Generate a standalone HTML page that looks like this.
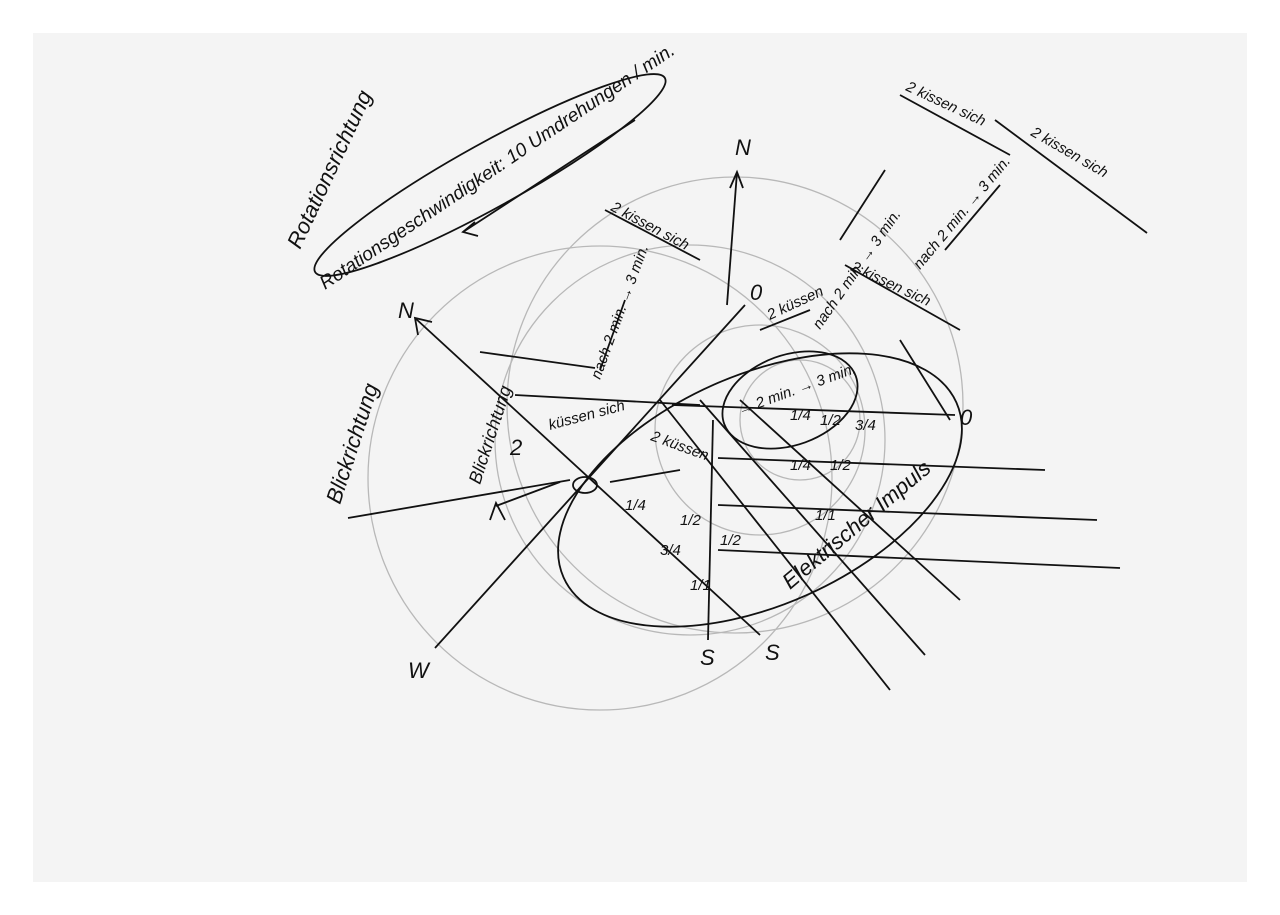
<!DOCTYPE html>
<html><head><meta charset="utf-8"><style>
html,body{margin:0;padding:0;background:#fff;}
svg{display:block}
text{font-family:"Liberation Sans",sans-serif;font-style:italic;fill:#111}
</style></head><body>
<svg width="1280" height="915" viewBox="0 0 1280 915" xmlns="http://www.w3.org/2000/svg">
<rect x="33" y="33" width="1214" height="849" fill="#f4f4f4"/>
<g fill="none" stroke="#b8b8b8" stroke-width="1.3">
<circle cx="600" cy="478" r="232"/>
<circle cx="735" cy="405" r="228"/>
<circle cx="690" cy="440" r="195"/>
<circle cx="760" cy="430" r="105"/>
<circle cx="800" cy="420" r="60"/>
</g>
<g fill="none" stroke="#111" stroke-width="1.8">
<ellipse cx="760" cy="490" rx="215" ry="115" transform="rotate(-24 760 490)"/>
<ellipse cx="790" cy="400" rx="70" ry="45" transform="rotate(-20 790 400)"/>
<ellipse cx="490" cy="175" rx="200" ry="32" transform="rotate(-29 490 175)"/>
<line x1="435" y1="648" x2="745" y2="305"/>
<line x1="727" y1="305" x2="737" y2="172"/>
<polyline points="730,188 737,172 743,188"/>
<line x1="415" y1="318" x2="760" y2="635"/>
<polyline points="418,335 415,318 432,322"/>
<line x1="713" y1="420" x2="708" y2="640"/>
<line x1="718" y1="458" x2="1045" y2="470"/>
<line x1="718" y1="505" x2="1097" y2="520"/>
<line x1="718" y1="550" x2="1120" y2="568"/>
<line x1="660" y1="400" x2="890" y2="690"/>
<line x1="700" y1="400" x2="925" y2="655"/>
<line x1="740" y1="400" x2="960" y2="600"/>
<line x1="672" y1="405" x2="955" y2="415"/>
<line x1="515" y1="395" x2="700" y2="405"/>
<line x1="480" y1="352" x2="595" y2="368"/>
<line x1="348" y1="518" x2="570" y2="480"/>
<line x1="610" y1="482" x2="680" y2="470"/>
<polyline points="490,520 496,503 505,520"/>
<line x1="496" y1="506" x2="560" y2="482"/>
<line x1="463" y1="232" x2="635" y2="120"/>
<polyline points="475,222 463,232 478,236"/>
<line x1="900" y1="95" x2="1010" y2="155"/>
<line x1="995" y1="120" x2="1147" y2="233"/>
<line x1="605" y1="210" x2="700" y2="260"/>
<line x1="845" y1="265" x2="960" y2="330"/>
<line x1="840" y1="240" x2="885" y2="170"/>
<line x1="945" y1="250" x2="1000" y2="185"/>
<line x1="600" y1="370" x2="625" y2="300"/>
<line x1="760" y1="330" x2="810" y2="310"/>
<line x1="900" y1="340" x2="950" y2="420"/>
<ellipse cx="585" cy="485" rx="12" ry="8"/>
</g>
<g font-size="22">
<text transform="translate(300,250) rotate(-65)">Rotationsrichtung</text>
<text transform="translate(325,290) rotate(-34)" font-size="19">Rotationsgeschwindigkeit: 10 Umdrehungen / min.</text>
<text transform="translate(340,505) rotate(-72)">Blickrichtung</text>
<text transform="translate(480,485) rotate(-72)" font-size="18">Blickrichtung</text>
<text transform="translate(790,590) rotate(-40)">Elektrischer Impuls</text>
<text x="398" y="318">N</text>
<text x="735" y="155">N</text>
<text x="408" y="678">W</text>
<text x="700" y="665">S</text>
<text x="765" y="660">S</text>
<text x="960" y="425">0</text>
<text x="750" y="300">0</text>
<text x="510" y="455">2</text>
</g>
<g font-size="15">
<text transform="translate(905,90) rotate(25)">2 kissen sich</text>
<text transform="translate(1030,135) rotate(30)">2 kissen sich</text>
<text transform="translate(610,210) rotate(28)">2 kissen sich</text>
<text transform="translate(850,270) rotate(25)">2 kissen sich</text>
<text transform="translate(770,320) rotate(-25)">2 küssen</text>
<text transform="translate(550,430) rotate(-15)">küssen sich</text>
<text transform="translate(650,440) rotate(20)">2 küssen</text>
<text transform="translate(600,380) rotate(-70)">nach 2 min. → 3 min.</text>
<text transform="translate(820,330) rotate(-55)">nach 2 min. → 3 min.</text>
<text transform="translate(920,270) rotate(-50)">nach 2 min. → 3 min.</text>
<text transform="translate(740,415) rotate(-20)">→ 2 min. → 3 min.</text>
<text x="625" y="510">1/4</text><text x="680" y="525">1/2</text>
<text x="660" y="555">3/4</text><text x="690" y="590">1/1</text>
<text x="790" y="420">1/4</text><text x="820" y="425">1/2</text><text x="855" y="430">3/4</text>
<text x="790" y="470">1/4</text><text x="830" y="470">1/2</text>
<text x="720" y="545">1/2</text><text x="815" y="520">1/1</text>
</g>
</svg>
</body></html>
